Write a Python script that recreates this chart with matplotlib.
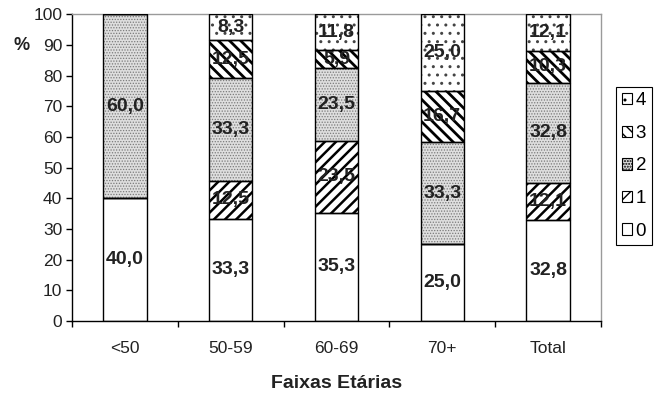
import matplotlib
matplotlib.use("Agg")
import matplotlib.pyplot as plt
import numpy as np

plt.rcParams['font.family'] = ['Liberation Sans', 'DejaVu Sans']

categories = ["<50", "50-59", "60-69", "70+", "Total"]
levels = ["0", "1", "2", "3", "4"]
values = {
    "0": [40.0, 33.3, 35.3, 25.0, 32.8],
    "1": [0.0, 12.5, 23.5, 0.0, 12.1],
    "2": [60.0, 33.3, 23.5, 33.3, 32.8],
    "3": [0.0, 12.5, 5.9, 16.7, 10.3],
    "4": [0.0, 8.3, 11.8, 25.0, 12.1],
}
y_ticks = [0, 10, 20, 30, 40, 50, 60, 70, 80, 90, 100]

styles = {
    "0": dict(facecolor="white", hatch=None, hcolor="black", hlw=1.0),
    "1": dict(facecolor="white", hatch="///", hcolor="black", hlw=1.8),
    "2": dict(facecolor="#dedede", hatch="......", hcolor="#7a7a7a", hlw=0.6),
    "3": dict(facecolor="white", hatch="\\\\\\", hcolor="black", hlw=2.0),
    "4": dict(facecolor="white", hatch="..", hcolor="#444444", hlw=1.0),
}

fig = plt.figure(figsize=(6.70, 3.93), dpi=100)
ax = fig.add_axes([0.1075, 0.183, 0.7895, 0.781])

x = np.arange(len(categories))
width = 0.41
bottom = np.zeros(len(categories))
handles = {}
for lev in levels:
    vals = np.array(values[lev])
    st = styles[lev]
    with plt.rc_context({'hatch.linewidth': st['hlw']}):
        bars = ax.bar(x, vals, width, bottom=bottom, facecolor=st['facecolor'],
                      edgecolor=st['hcolor'], hatch=st['hatch'], linewidth=0,
                      zorder=2)
    ax.bar(x, vals, width, bottom=bottom, fill=False, edgecolor="black",
           linewidth=1.0, zorder=3)
    handles[lev] = bars
    for xi, v, b in zip(x, vals, bottom):
        if v > 0:
            ax.text(xi, b + v / 2, f"{v:.1f}".replace(".", ","), ha="center",
                    va="center", fontsize=14, fontweight="bold",
                    color="#222222", zorder=4)
    bottom = bottom + vals

ax.set_xlim(-0.5, len(categories) - 0.5)
ax.set_ylim(0, 100)
ax.set_yticks(y_ticks)
ax.set_xticks(x)
ax.set_xticklabels(categories)
ax.set_xticks(np.arange(-0.5, len(categories)), minor=True)
ax.tick_params(axis="x", which="major", length=0, pad=14.5, labelsize=12.5,
               colors="#222222")
ax.tick_params(axis="x", which="minor", length=4, width=1, color="black")
ax.tick_params(axis="y", length=4, width=1, pad=3, labelsize=12.5,
               colors="#222222")
ax.tick_params(axis="y", color="black")

for side in ("top", "right"):
    ax.spines[side].set_color("#9a9a9a")
    ax.spines[side].set_linewidth(1.0)
for side in ("left", "bottom"):
    ax.spines[side].set_color("black")
    ax.spines[side].set_linewidth(1.0)

fig.text(13 / 670, 1 - 45 / 393, "%", fontsize=13, fontweight="bold",
         ha="left", va="center", color="#222222")
fig.text((72 + 601) / 2 / 670, 1 - 383 / 393, "Faixas Etárias", fontsize=14,
         fontweight="bold", ha="center", va="center", color="#222222")

leg_order = ["4", "3", "2", "1", "0"]
leg = ax.legend([handles[k] for k in leg_order], leg_order,
                loc="center left", bbox_to_anchor=(616 / 670, 1 - 166 / 393),
                bbox_transform=fig.transFigure, fontsize=13.5,
                handlelength=0.55, handleheight=0.55, handletextpad=0.2,
                labelspacing=0.83, borderpad=0.3, borderaxespad=0,
                fancybox=False, edgecolor="black", framealpha=1)
leg.get_frame().set_linewidth(0.8)
for patch in leg.get_patches():
    patch.set_linewidth(0.8)
    patch.set_edgecolor("black")

fig.savefig("out.png", dpi=100)
